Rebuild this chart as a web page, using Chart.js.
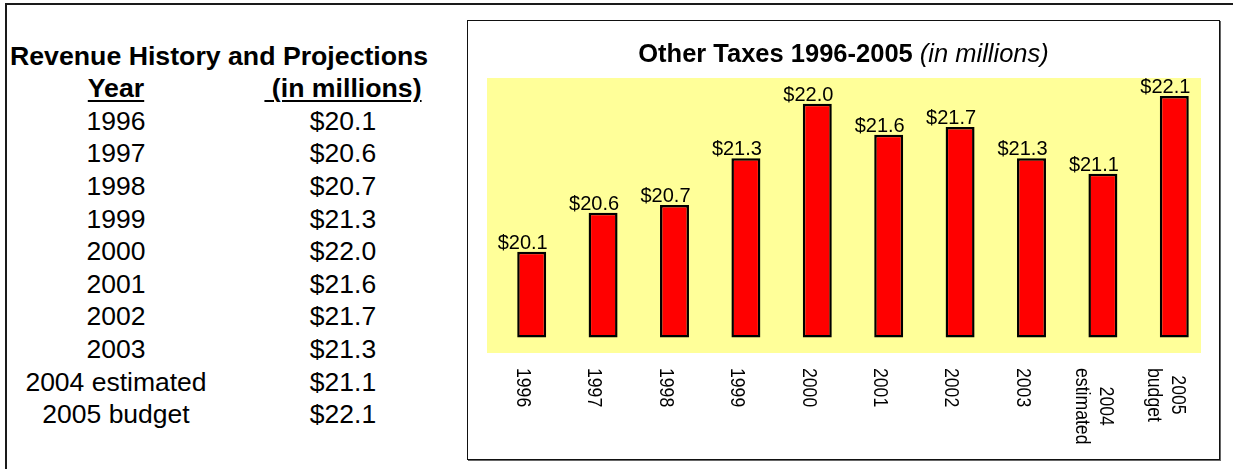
<!DOCTYPE html>
<html>
<head>
<meta charset="utf-8">
<title>Other Taxes 1996-2005</title>
<script src="https://cdn.jsdelivr.net/npm/chart.js@4/dist/chart.umd.min.js"></script>
<style>
	body {
		margin: 0;
		width: 1233px;
		height: 469px;
		overflow: hidden;
		background: #fff;
		font-family: "Liberation Sans", Arial, sans-serif;
		color: #000;
		position: relative;
	}
	#sheet-edge {
		position: absolute;
		left: 5px;
		top: 3px;
		width: 1240px;
		height: 480px;
		border-top: 2px solid #1a1a1a;
		border-left: 2px solid #1a1a1a;
	}
	#revenue-table div {
		position: absolute;
		height: 32.6px;
		line-height: 32.6px;
		font-size: 26.5px;
		white-space: pre;
	}
	#revenue-table .head {
		font-weight: bold;
		font-size: 26.7px;
	}
	#revenue-table .under {
		text-decoration: underline;
		text-decoration-thickness: 2px;
		text-underline-offset: 3px;
	}
	#chart-frame {
		position: absolute;
		left: 467px;
		top: 20px;
		width: 751px;
		height: 438px;
		border: 1px solid #111;
		box-shadow: 1px 1px 0 #666;
		background: #fff;
	}
	#taxes-chart {
		display: block;
	}
</style>
</head>
<body>
<div id="sheet-edge"></div>
<div id="revenue-table"></div>
<div id="chart-frame"><canvas id="taxes-chart" width="751" height="438"></canvas></div>

<script>
var years = ['1996', '1997', '1998', '1999', '2000', '2001', '2002', '2003', '2004 estimated', '2005 budget'];
var revenue = [20.1, 20.6, 20.7, 21.3, 22.0, 21.6, 21.7, 21.3, 21.1, 22.1];
var yearHeading = 'Year';
var amountHeading = ' (in millions)';
var tableTitle = 'Revenue History and Projections';
var chartTitle = 'Other Taxes 1996-2005';
var chartSubtitle = ' (in millions)';

function money(v) {
	return '$' + v.toFixed(1);
}

// Left side: the revenue table
(function () {
	var table = document.getElementById('revenue-table');
	var rowTop = 39.5;
	var rowH = 32.6;

	function cell(text, center, row, cls) {
		var d = document.createElement('div');
		d.textContent = text;
		if (cls) d.className = cls;
		d.style.top = (rowTop + row * rowH) + 'px';
		if (center === null) {
			d.style.left = '10px';
		} else {
			d.style.left = (center - 150) + 'px';
			d.style.width = '300px';
			d.style.textAlign = 'center';
		}
		table.appendChild(d);
		return d;
	}

	cell(tableTitle, null, 0, 'head');
	cell(yearHeading, 116, 1, 'head under');
	cell(amountHeading, 343, 1, 'head under');
	years.forEach(function (y, i) {
		cell(y, 116, i + 2);
		cell(money(revenue[i]), 343, i + 2);
	});
})();

// Yellow plot area, title, value labels and rotated year labels
var chartDecor = {
	id: 'chartDecor',
	beforeDatasetsDraw: function (chart) {
		var a = chart.chartArea;
		var ctx = chart.ctx;
		ctx.save();
		ctx.fillStyle = '#FFFF99';
		ctx.fillRect(a.left, a.top, a.right - a.left, a.bottom - a.top);
		ctx.restore();
	},
	afterDatasetsDraw: function (chart) {
		var ctx = chart.ctx;
		var xs = chart.scales.x;
		var a = chart.chartArea;
		var meta = chart.getDatasetMeta(1);

		ctx.save();

		// title: bold part + italic part, centred together
		ctx.textBaseline = 'alphabetic';
		ctx.font = 'bold 25.5px "Liberation Sans", Arial, sans-serif';
		var w1 = ctx.measureText(chartTitle).width;
		ctx.font = 'italic 25.5px "Liberation Sans", Arial, sans-serif';
		var w2 = ctx.measureText(chartSubtitle).width;
		var tx = chart.width / 2 - (w1 + w2) / 2;
		ctx.fillStyle = '#000';
		ctx.textAlign = 'left';
		ctx.font = 'bold 25.5px "Liberation Sans", Arial, sans-serif';
		ctx.fillText(chartTitle, tx, 41);
		ctx.font = 'italic 25.5px "Liberation Sans", Arial, sans-serif';
		ctx.fillText(chartSubtitle, tx + w1, 41);

		// value above each bar
		ctx.font = '20px "Liberation Sans", Arial, sans-serif';
		ctx.textAlign = 'center';
		meta.data.forEach(function (bar, i) {
			ctx.fillText(money(revenue[i]), xs.getPixelForValue(i), bar.y - 3);
		});

		// year labels, turned to read downwards
		ctx.font = '21px "Liberation Sans", Arial, sans-serif';
		ctx.textBaseline = 'middle';
		var squeeze = 0.84;
		var lineH = 24;
		chart.data.labels.forEach(function (lines, i) {
			var n = lines.length;
			var longest = 0;
			lines.forEach(function (l) {
				longest = Math.max(longest, ctx.measureText(l).width);
			});
			ctx.save();
			ctx.translate(xs.getPixelForValue(i), a.bottom + 15);
			ctx.rotate(Math.PI / 2);
			ctx.scale(squeeze, 1);
			lines.forEach(function (l, k) {
				ctx.fillText(l, longest / 2, (k - (n - 1) / 2) * lineH);
			});
			ctx.restore();
		});

		ctx.restore();
	}
};

var ctx = document.getElementById('taxes-chart');

new Chart(ctx, {
	type: 'bar',
	data: {
		labels: years.map(function (y) { return y.split(' '); }),
		datasets: [{
			// empty series, only there to push the bars to the right of each slot
			label: '',
			data: [],
		}, {
			label: 'Other Taxes',
			data: revenue,
			base: 19,
			backgroundColor: '#FF0000',
			borderColor: '#000000',
			borderWidth: 2.5,
			borderSkipped: false,
		}],
	},
	options: {
		responsive: false,
		animation: false,
		events: [],
		devicePixelRatio: 1,
		categoryPercentage: 0.504,
		barPercentage: 1.61,
		layout: {
			padding: { left: 19, right: 18, top: 57, bottom: 106 }
		},
		scales: {
			x: {
				display: false,
			},
			y: {
				display: false,
				min: 18.8,
				max: 22.33,
			}
		},
		plugins: {
			legend: {
				display: false
			},
			tooltip: {
				enabled: false
			},
		}
	},
	plugins: [chartDecor]
});
</script>
</body>
</html>
